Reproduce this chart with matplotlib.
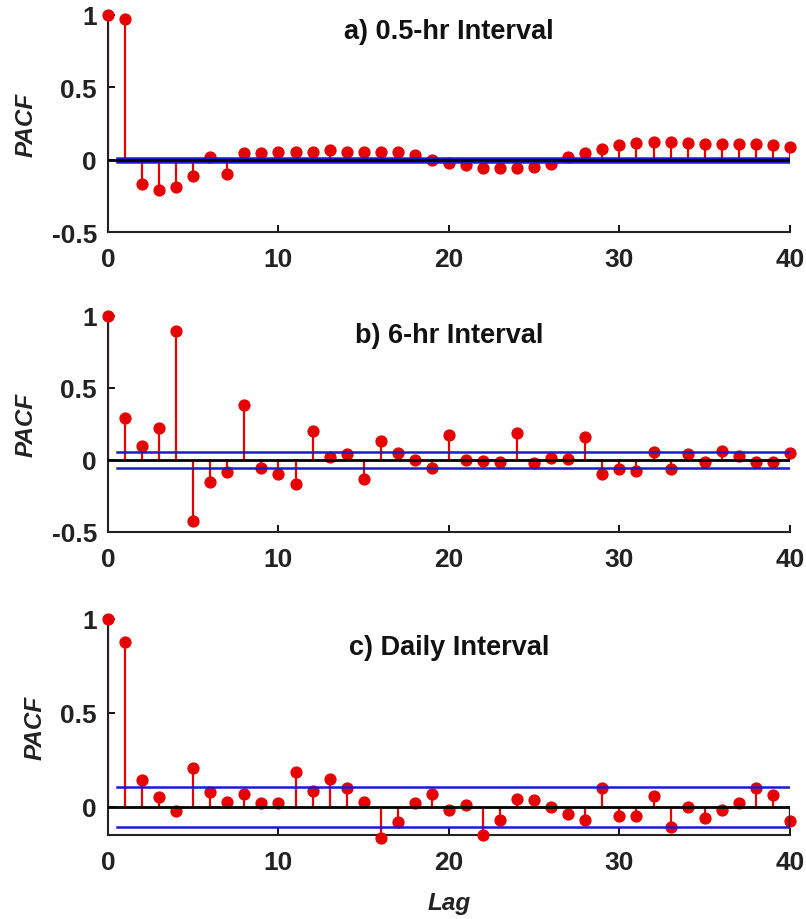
import numpy as np
import matplotlib
matplotlib.use("Agg")
import matplotlib.pyplot as plt

plt.rcParams['font.family'] = ['Liberation Sans', 'DejaVu Sans']

lags = np.arange(0, 41)

pacf_a = [1.0, 0.97, -0.17, -0.21, -0.19, -0.115, 0.02, -0.10, 0.045, 0.045,
          0.05, 0.05, 0.05, 0.065, 0.05, 0.05, 0.05, 0.05, 0.035, 0.0,
          -0.02, -0.04, -0.06, -0.06, -0.06, -0.05, -0.03, 0.015, 0.045, 0.075,
          0.10, 0.115, 0.125, 0.12, 0.115, 0.11, 0.11, 0.11, 0.105, 0.10, 0.09]

pacf_b = [1.0, 0.29, 0.10, 0.22, 0.895, -0.425, -0.155, -0.085, 0.38, -0.055,
          -0.10, -0.165, 0.20, 0.02, 0.04, -0.13, 0.135, 0.05, 0.0, -0.055,
          0.17, 0.0, -0.01, -0.015, 0.185, -0.02, 0.015, 0.01, 0.16, -0.095,
          -0.06, -0.075, 0.053, -0.065, 0.04, -0.015, 0.06, 0.03, -0.015, -0.012, 0.05]

pacf_c = [1.0, 0.88, 0.143, 0.054, -0.02, 0.205, 0.077, 0.027, 0.07, 0.023,
          0.023, 0.184, 0.086, 0.148, 0.10, 0.027, -0.165, -0.08, 0.02, 0.068,
          -0.015, 0.01, -0.15, -0.07, 0.04, 0.035, 0.0, -0.04, -0.07, 0.10,
          -0.05, -0.05, 0.055, -0.11, 0.0, -0.06, -0.015, 0.02, 0.10, 0.065, -0.075]

titles = ["a) 0.5-hr Interval", "b) 6-hr Interval", "c) Daily Interval"]
bounds = [0.013, 0.053, 0.105]
ylims = [(-0.5, 1.0), (-0.5, 1.0), (-0.15, 1.0)]
yticks = [[-0.5, 0, 0.5, 1], [-0.5, 0, 0.5, 1], [0, 0.5, 1]]
ytick_labels = [["-0.5", "0", "0.5", "1"], ["-0.5", "0", "0.5", "1"], ["0", "0.5", "1"]]
title_y = [0.894, 0.88, 0.837]

# axes boxes in figure fraction: left, bottom, width, height
boxes = [[0.134, 0.7467, 0.846, 0.236],
         [0.134, 0.4207, 0.846, 0.2348],
         [0.134, 0.0913, 0.846, 0.2348]]

red = "#e60000"
blue = "#1a1ad0"

fig = plt.figure(figsize=(8.06, 9.2), dpi=100)

for i, vals in enumerate([pacf_a, pacf_b, pacf_c]):
    ax = fig.add_axes(boxes[i])
    vals = np.array(vals)
    ax.vlines(lags, 0, vals, color=red, lw=1.6, zorder=2)
    ax.plot(lags, vals, "o", color=red, ms=7.8, zorder=3, clip_on=False)
    ax.plot([0.5, 40], [bounds[i], bounds[i]], color=blue, lw=1.8, zorder=5)
    ax.plot([0.5, 40], [-bounds[i], -bounds[i]], color=blue, lw=1.8, zorder=5)
    ax.plot([0, 40], [0, 0], color="black", lw=2, zorder=6)
    if i == 2:
        ax.plot([40, 40], [ylims[i][0], 0], color="#222222", lw=1.5, zorder=4)

    ax.set_xlim(0, 40)
    ax.set_ylim(*ylims[i])
    ax.set_xticks([0, 10, 20, 30, 40])
    ax.set_yticks(yticks[i])
    ax.set_yticklabels(ytick_labels[i])
    ax.tick_params(direction="in", length=5, width=1.3, labelsize=19)
    ax.tick_params(axis="x", pad=11)
    ax.tick_params(axis="y", pad=8)
    for lab in ax.get_xticklabels() + ax.get_yticklabels():
        lab.set_fontweight("bold")
        lab.set_color("#222222")
    for s in ["top", "right"]:
        ax.spines[s].set_visible(False)
    for s in ["left", "bottom"]:
        ax.spines[s].set_linewidth(1.5)
        ax.spines[s].set_color("#222222")

    ax.text(0.5, title_y[i], titles[i], transform=ax.transAxes,
            ha="center", va="baseline", fontsize=19.5, fontweight="bold",
            color="#111111")
    ax.set_ylabel("PACF", fontsize=17.5, fontweight="bold", fontstyle="italic",
                  labelpad=10, color="#222222")
    if i == 2:
        ax.set_xlabel("Lag", fontsize=17.5, fontweight="bold", fontstyle="italic",
                      labelpad=12, color="#222222")

fig.savefig("out.png", dpi=100)
